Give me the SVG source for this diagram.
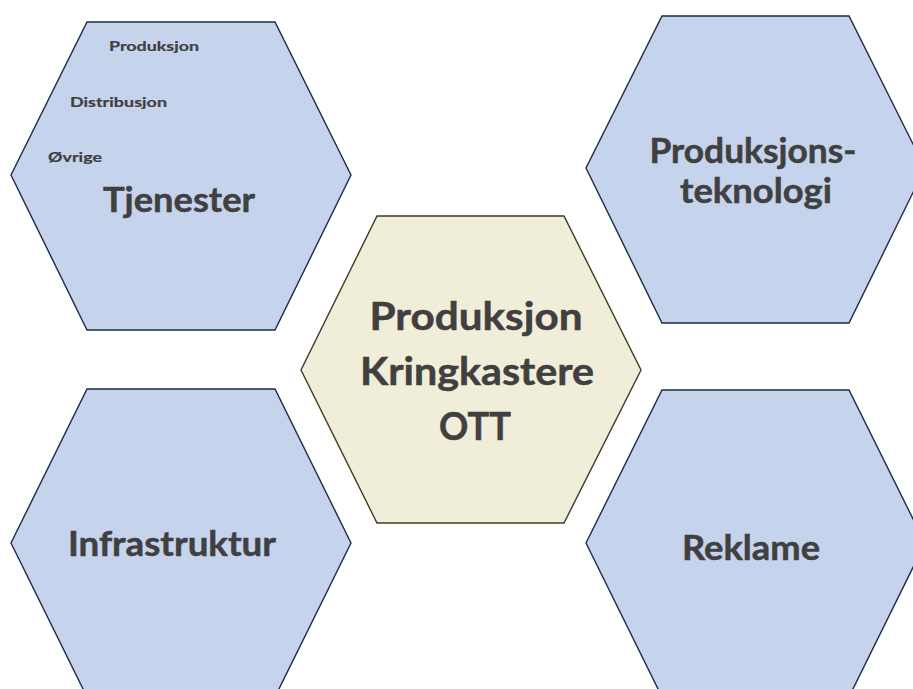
<svg xmlns="http://www.w3.org/2000/svg" width="913" height="689" viewBox="0 0 913 689">
  <style>
    .hex { fill: #c5d3ec; stroke: #1f2a44; stroke-width: 1.4; }
    .core { fill: #f0eed8; stroke: #3c3c22; stroke-width: 1.4; }
    text { font-family: Lato, "Open Sans", sans-serif; font-weight: bold; fill: #404040; stroke: #404040; stroke-width: 0.5; }
    .big { font-size: 35px; text-anchor: middle; }
    .mid { font-size: 39px; text-anchor: middle; }
    .small { font-size: 14px; stroke-width: 0.2; }
  </style>
  <rect width="913" height="689" fill="#ffffff"/>

  <g id="tjenester">
    <polygon class="hex" points="87,22 275,22 351,175 275,330 87,330 11,175"/>
    <text class="small" x="109" y="51" textLength="90" lengthAdjust="spacingAndGlyphs">Produksjon</text>
    <text class="small" x="70" y="107" textLength="97" lengthAdjust="spacingAndGlyphs">Distribusjon</text>
    <text class="small" x="48" y="162" textLength="54" lengthAdjust="spacingAndGlyphs">Øvrige</text>
    <text class="big" x="179" y="212" textLength="152" lengthAdjust="spacingAndGlyphs">Tjenester</text>
  </g>

  <g id="produksjonsteknologi">
    <polygon class="hex" points="662,16 849,16 925,168 849,323 662,323 586,168"/>
    <text class="big" x="753" y="163" textLength="207" lengthAdjust="spacingAndGlyphs">Produksjons-</text>
    <text class="big" x="756" y="203" textLength="152" lengthAdjust="spacingAndGlyphs">teknologi</text>
  </g>

  <g id="kjerne">
    <polygon class="core" points="377,216 564,216 641,370 564,523 377,523 301,370"/>
    <text class="mid" x="476" y="330" textLength="213" lengthAdjust="spacingAndGlyphs">Produksjon</text>
    <text class="mid" x="477" y="385" textLength="234" lengthAdjust="spacingAndGlyphs">Kringkastere</text>
    <text class="mid" x="475" y="440" textLength="72" lengthAdjust="spacingAndGlyphs">OTT</text>
  </g>

  <g id="infrastruktur">
    <polygon class="hex" points="87,389 275,389 351,543 275,697 87,697 11,543"/>
    <text class="big" x="172" y="556" textLength="208" lengthAdjust="spacingAndGlyphs">Infrastruktur</text>
  </g>

  <g id="reklame">
    <polygon class="hex" points="662,390 849,390 925,543 849,697 662,697 586,543"/>
    <text class="big" x="751" y="560" textLength="138" lengthAdjust="spacingAndGlyphs">Reklame</text>
  </g>
</svg>
